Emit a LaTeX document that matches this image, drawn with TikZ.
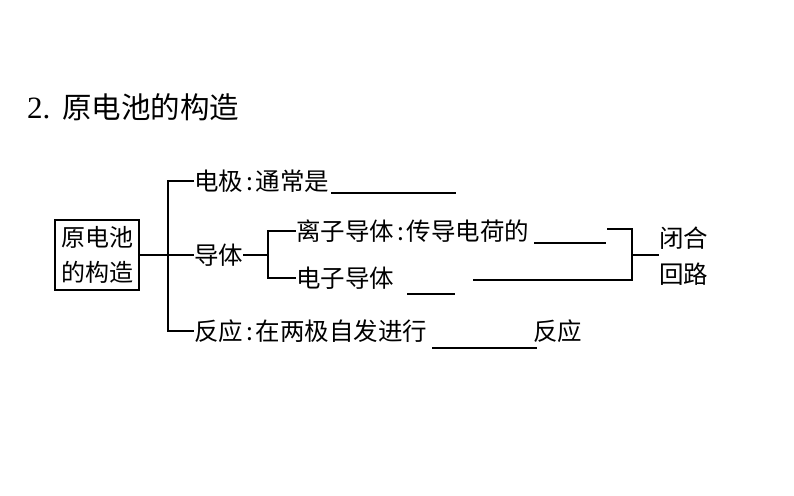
\documentclass[tikz,border=0pt]{standalone}
\usepackage{fontspec}
\newfontfamily\cjk{Noto Sans CJK SC}
\setmainfont{Liberation Serif}
\newcommand{\cc}{\kern3pt:\kern3pt}
\begin{document}
\begin{tikzpicture}[x=1pt,y=-1pt,
  txt/.style={inner sep=0pt,anchor=west,
              font=\cjk\fontsize{24.5}{35}\selectfont},
  ln/.style={line width=1.3pt},
  blank/.style={line width=1.3pt}]
\useasboundingbox[fill=white] (0,0) rectangle (794,495);
% title
\node[inner sep=0pt,anchor=west,font=\fontsize{31}{32}\selectfont] (title) at (27,107) {2.\kern12pt{\cjk\fontsize{29.5}{32}\selectfont 原电池的构造}};
% main box
\node[draw,ln,inner sep=0pt,minimum width=84,minimum height=70,align=center,
      font=\cjk\fontsize{24}{35}\selectfont] (box) at (97,255) {原电池\\的构造};
% first level
\node[txt] (e1) at (194,181) {电极\cc 通常是};
\node[txt] (dt) at (194,255) {导体};
\node[txt] (fy) at (194,331) {反应\cc 在两极自发进行};
\node[txt] (fy2) at (533,331) {反应};
% second level
\node[txt] (lz) at (296,231) {离子导体\cc 传导电荷的};
\node[txt] (dz) at (296,278) {电子导体};
\node[inner sep=0pt,anchor=west,align=left,font=\cjk\fontsize{24.5}{36}\selectfont] (bh) at (659,256) {闭合\\回路};
% connectors
\coordinate (b1) at (168,255);
\coordinate (b2) at (268,255);
\coordinate (b3) at (632,255);
\coordinate (c1) at (607,229);
\coordinate (c2) at (473,280);
\draw[ln] (box.east) -- (dt.west);
\draw[ln] (e1.west) -| (b1) |- (fy.west);
\draw[ln] (dt.east) -- (b2);
\draw[ln] (lz.west) -| (b2) |- (dz.west);
\draw[ln] (c1) -| (b3) |- (c2);
\draw[ln] (b3) -- (b3 -| bh.west);
% blanks
\coordinate (u1a) at (331,193); \coordinate (u1b) at (456,193);
\coordinate (u2a) at (534,243); \coordinate (u2b) at (606,243);
\coordinate (u3a) at (407,294); \coordinate (u3b) at (455,294);
\coordinate (u4a) at (432,348); \coordinate (u4b) at (537,348);
\draw[blank] (u1a) -- (u1b);
\draw[blank] (u2a) -- (u2b);
\draw[blank] (u3a) -- (u3b);
\draw[blank] (u4a) -- (u4b);
\end{tikzpicture}
\end{document}
